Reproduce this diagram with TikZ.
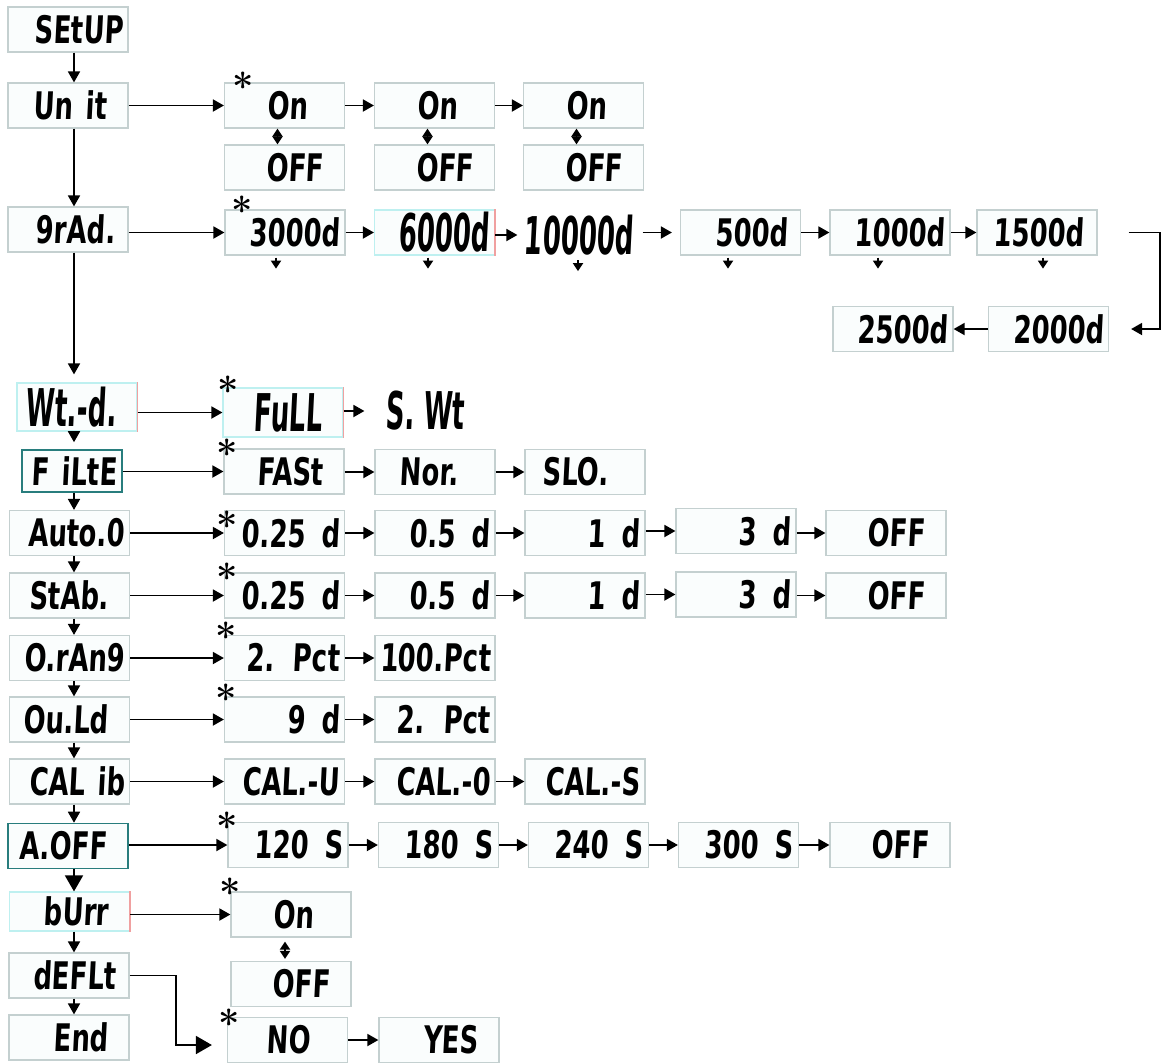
\documentclass[tikz,border=0pt]{standalone}
\usepackage{fontspec}
\usetikzlibrary{arrows.meta}
\newfontfamily\segfont{DejaVu Sans Bold}[FakeStretch=0.68,FakeSlant=0.05]
\newfontfamily\segbigfont{DejaVu Sans Bold}[FakeStretch=0.5,FakeSlant=0.05]
\definecolor{lcdedge}{RGB}{196,208,208}
\definecolor{lcdfill}{RGB}{250,253,253}
\definecolor{lcdcyan}{RGB}{190,240,240}
\definecolor{lcdteal}{RGB}{40,125,125}
\definecolor{lcdred}{RGB}{240,160,160}
\newcommand{\slot}{\rule{8pt}{0pt}}
\newcommand{\halfslot}{\rule{4pt}{0pt}}
\begin{document}
\begin{tikzpicture}[x=0.5pt, y=-0.5pt, line width=0.9pt,
  >={Triangle[length=5.5pt,width=6pt]},
  lcd/.style={draw=lcdedge, line width=0.6pt, fill=lcdfill, minimum height=22.5pt,
    inner xsep=2.5pt, inner ysep=0pt, text width=55pt, align=right,
    font=\segfont\fontsize{19}{22}\selectfont},
  bare/.style={lcd, draw=none, fill=none},
  big/.style={font=\segbigfont\fontsize{26}{28}\selectfont},
  cyanbox/.style={draw=lcdcyan},
  tealbox/.style={draw=lcdteal, line width=0.8pt},
  dflt/.style={font=\fontsize{19}{19}\selectfont\bfseries, inner sep=0pt, anchor=north},
  tinytip/.style={>={Triangle[length=4pt,width=5pt]}},
  bigtip/.style={>={Triangle[length=8pt,width=9pt]}}]
  \useasboundingbox (0,0) rectangle (1163,1062);
  \coordinate (spine) at (74,0);
  % menu column
  \node[lcd] (setup) at (68,29.5) {SEtUP};
  \node[lcd] (unit) at (68,105.5) {Un it\slot};
  \node[lcd] (grad) at (68,229.5) {9rAd.\halfslot};
  \node[lcd, big, cyanbox, minimum height=24pt] (wtd) at (77,407) {Wt.-d.\slot};
  \node[lcd, tealbox, text width=45pt, minimum height=21pt] (filte) at (72,471) {F iLtE};
  \node[lcd] (auto) at (69.5,533) {Auto.0};
  \node[lcd] (stab) at (69.5,595.5) {StAb.\slot};
  \node[lcd] (orang) at (69.5,658) {O.rAn9};
  \node[lcd] (ould) at (69.5,719.5) {Ou.Ld\slot};
  \node[lcd] (calib) at (69.5,781.5) {CAL ib};
  \node[lcd, tealbox] (aoff) at (68,846) {A.OFF\slot};
  \node[lcd, cyanbox, minimum height=19.5pt] (burr) at (69.5,911.5) {bUrr\slot};
  \node[lcd] (deflt) at (69,975.5) {dEFLt\halfslot};
  \node[lcd] (end) at (69,1037.5) {End\slot};
  % Unit
  \node[lcd] (on1) at (284.5,105.5) {On\slot\slot};
  \node[lcd] (on2) at (434.5,105.5) {On\slot\slot};
  \node[lcd] (on3) at (583.5,105.5) {On\slot\slot};
  \node[lcd] (off1) at (284.5,167.5) {OFF\slot};
  \node[lcd] (off2) at (434.5,167.5) {OFF\slot};
  \node[lcd] (off3) at (583.5,167.5) {OFF\slot};
  % grad
  \node[lcd] (g1) at (285,232.5) {3000d};
  \node[lcd, big, cyanbox] (g2) at (434.5,232.5) {6000d};
  \node[bare, big] (g3) at (578,235) {10000d};
  \node[lcd] (g4) at (740.5,232.5) {500d\halfslot};
  \node[lcd] (g5) at (890,232.5) {1000d};
  \node[lcd] (g6) at (1037,232.5) {1500d\halfslot};
  \node[lcd] (g7) at (1048.5,329) {2000d};
  \node[lcd] (g8) at (893,329) {2500d};
  % weighing
  \node[lcd, big, cyanbox, minimum height=24.5pt] (full) at (283,412.5) {FuLL\slot};
  \node[bare, big, align=center] (swt) at (425,411) {S.\,Wt};
  % filter
  \node[lcd] (fast) at (284,471.5) {FASt\slot};
  \node[lcd] (nor) at (435,472) {Nor.\slot\slot};
  \node[lcd] (slo) at (585,472) {SLO.\slot\slot};
  % auto zero, stability
  \node[lcd] (a1) at (284.5,533) {0.25\slot d};
  \node[lcd] (a2) at (435,533) {0.5\slot d};
  \node[lcd] (a3) at (585,533) {1\slot d};
  \node[lcd] (a4) at (736,531) {3\slot d};
  \node[lcd] (a5) at (886,533) {OFF\slot};
  \node[lcd] (s1) at (284.5,595.5) {0.25\slot d};
  \node[lcd] (s2) at (435,595.5) {0.5\slot d};
  \node[lcd] (s3) at (585,595.5) {1\slot d};
  \node[lcd] (s4) at (736,594.5) {3\slot d};
  \node[lcd] (s5) at (886,595.5) {OFF\slot};
  % overload
  \node[lcd] (o1) at (284.5,658) {2. Pct};
  \node[lcd] (o2) at (435,658) {100.Pct};
  \node[lcd] (d1) at (284.5,719.5) {9\slot d};
  \node[lcd] (d2) at (435,719.5) {2. Pct};
  % calibration
  \node[lcd] (c1) at (284.5,781.5) {CAL.-U};
  \node[lcd] (c2) at (435,781.5) {CAL.-0};
  \node[lcd] (c3) at (585,781.5) {CAL.-S};
  % auto off
  \node[lcd] (t1) at (288,845) {120\slot S};
  \node[lcd] (t2) at (438.5,845) {180\slot S};
  \node[lcd] (t3) at (588.5,845) {240\slot S};
  \node[lcd] (t4) at (738.5,845) {300\slot S};
  \node[lcd] (t5) at (890,845) {OFF\slot};
  % buzzer, default
  \node[lcd] (b1) at (291,914.5) {On\slot\slot};
  \node[lcd] (b2) at (291,984) {OFF\slot};
  \node[lcd] (no) at (287.5,1040) {NO\slot\slot};
  \node[lcd] (yes) at (439,1040) {YES\slot};
  % factory settings
  \node[dflt] (unit-star) at (243,71) {*};
  \node[dflt] (grad-star) at (242,195) {*};
  \node[dflt] (wtd-star) at (228,375) {*};
  \node[dflt] (filte-star) at (227,438) {*};
  \node[dflt] (auto-star) at (227,510) {*};
  \node[dflt] (stab-star) at (227,562) {*};
  \node[dflt] (orang-star) at (226,621) {*};
  \node[dflt] (ould-star) at (226,683) {*};
  \node[dflt] (aoff-star) at (227,811) {*};
  \node[dflt] (burr-star) at (230,877) {*};
  \node[dflt] (no-star) at (229,1008) {*};
  \foreach \n in {wtd, full, g2, burr}
    \draw[lcdred, line width=0.8pt] (\n.north east) -- (\n.south east);
  % connectors
  \foreach \a/\b in {setup/unit, unit/grad, filte/auto, auto/stab, stab/orang,
      orang/ould, ould/calib, calib/aoff, burr/deflt, deflt/end}
    \draw[->] (\a.south -| spine) -- (\b.north -| spine);
  \draw[->, shorten >=4pt] (grad.south -| spine) -- (wtd.north -| spine);
  \draw[->, shorten >=3.5pt] (wtd.south -| spine) -- (filte.north -| spine);
  \draw[->, bigtip] (aoff.south -| spine) -- (burr.north -| spine);
  \foreach \a/\b in {unit/on1, on1/on2, on2/on3, grad/g1, g1/g2, g2/g3, g4/g5, g5/g6,
      wtd/full, full/swt, filte/fast, fast/nor, nor/slo, auto/a1, a1/a2, a2/a3, a3/a4,
      a4/a5, stab/s1, s1/s2, s2/s3, s3/s4, s4/s5, orang/o1, o1/o2, ould/d1, d1/d2,
      calib/c1, c1/c2, c2/c3, aoff/t1, t1/t2, t2/t3, t3/t4, t4/t5, burr/b1, no/yes}
    \draw[->] (\a.east |- \b.west) -- (\b.west);
  \draw[->, shorten <=2pt, shorten >=4pt] (g3.east |- g4.west) -- (g4.west);
  \draw[->] (g7.west) -- (g8.east);
  \draw[->] ([xshift=15.5pt]g6.east) -- ++(15.5pt,0pt) |- ([xshift=11pt]g7.east);
  \draw[->, bigtip] (deflt.east) -- ++(23pt,0pt) |- ([xshift=-7.5pt,yshift=-2.5pt]no.west);
  \foreach \n in {1,2,3}
    \draw[<->, tinytip] ([xshift=-3.5pt]on\n.south) -- ([xshift=-3.5pt]off\n.north);
  \draw[<->, tinytip, shorten <=2pt, shorten >=1pt] ([xshift=-3pt]b1.south) -- ([xshift=-3pt]b2.north);
  \foreach \n/\dx in {g1/-4.5, g2/-3.25, g3/0, g4/-6.25, g5/-6, g6/3}
    \draw[->, tinytip] ([xshift=\dx pt, yshift=-1pt]\n.south) -- ++(0pt,-5.5pt);
\end{tikzpicture}
\end{document}
